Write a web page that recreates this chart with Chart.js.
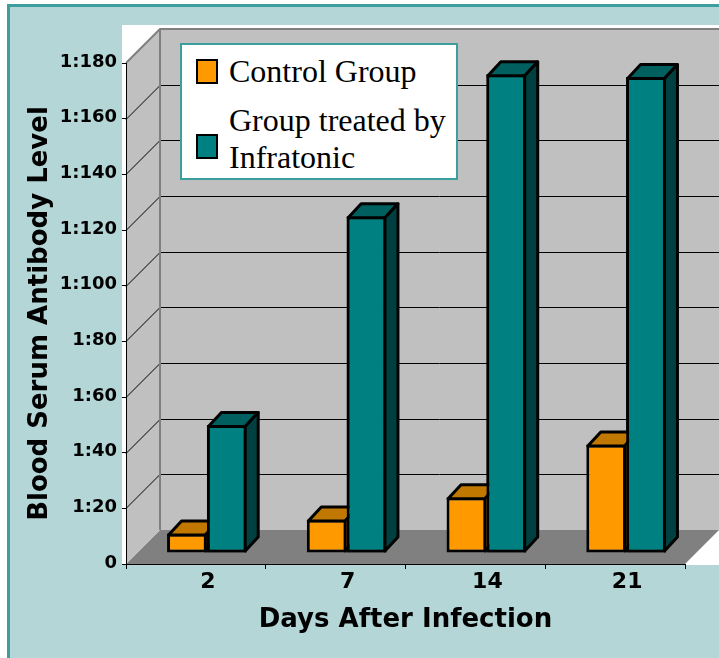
<!DOCTYPE html>
<html>
<head>
<meta charset="utf-8">
<script src="https://cdn.jsdelivr.net/npm/chart.js@4.4.1/dist/chart.umd.min.js"></script>
<style>
body { margin: 0; background: #fff; }
#frame { position: absolute; left: 7px; top: 4px; width: 712px; height: 654px; box-sizing: border-box;
  background: #b4d6d6; border-left: 3px solid #3d9e9e; border-top: 3px solid #3d9e9e; }
#chart { position: absolute; left: 0; top: 0; }
#legend { position: absolute; left: 180px; top: 43px; width: 278px; height: 137px; box-sizing: border-box;
  background: #fff; border: 2px solid #3d9e9e; padding: 8px 0 0 14px;
  font-family: "Liberation Serif", "Times New Roman", serif; font-size: 32px; line-height: 37px; color: #000; }
.item { display: flex; align-items: center; margin-bottom: 12px; }
.swatch { width: 22px; height: 25px; box-sizing: border-box; border: 2px solid #000; margin-right: 11px; flex: none; }
.item:nth-child(2) .swatch { margin-top: 14px; }
</style>
</head>
<body>
<div id="frame"></div>
<canvas id="chart" width="719" height="658"></canvas>
<div id="legend"></div>
<script>
const days = ['2', '7', '14', '21']
const controlGroup = [7, 12, 20, 39]
const treatedGroup = [46, 121, 172, 171]
const yTickLabels = ['0', '1:20', '1:40', '1:60', '1:80', '1:100', '1:120', '1:140', '1:160', '1:180']

// 3d look: depth of the box and how far the bars sit behind the front plane
const depth = 34
const barShift = 11
const barDx = 13
const barDy = 14
const bw = 3

function poly(ctx, pts) {
    ctx.beginPath()
    pts.forEach((p, i) => i ? ctx.lineTo(p[0], p[1]) : ctx.moveTo(p[0], p[1]))
    ctx.closePath()
}

const box3d = {
    id: 'box3d',
    beforeDraw(chart) {
        const { ctx, chartArea: a } = chart
        const y = chart.scales.y
        ctx.save()
        ctx.fillStyle = '#fff'
        ctx.fillRect(a.left - 4, a.top - depth - 4, chart.width - a.left + 4, a.bottom - a.top + depth + 5)

        ctx.fillStyle = '#808080'
        poly(ctx, [[a.left, a.bottom], [a.right, a.bottom], [a.right + depth, a.bottom - depth], [a.left + depth, a.bottom - depth]])
        ctx.fill()

        ctx.fillStyle = '#c0c0c0'
        poly(ctx, [[a.left, a.top], [a.left + depth, a.top - depth], [a.left + depth, a.bottom - depth], [a.left, a.bottom]])
        ctx.fill()
        ctx.fillRect(a.left + depth, a.top - depth, a.right - a.left, a.bottom - a.top)

        ctx.strokeStyle = '#000'
        ctx.lineWidth = 1
        y.ticks.forEach(t => {
            if (t.value == y.min || t.value == y.max) return
            const py = Math.round(y.getPixelForValue(t.value)) + 0.5
            ctx.beginPath()
            ctx.moveTo(a.left, py)
            ctx.lineTo(a.left + depth, py - depth)
            ctx.lineTo(a.right + depth, py - depth)
            ctx.stroke()
        })

        ctx.strokeStyle = '#808080'
        ctx.lineWidth = 2
        ctx.beginPath()
        ctx.moveTo(a.left, a.top)
        ctx.lineTo(a.left + depth, a.top - depth)
        ctx.lineTo(a.right + depth, a.top - depth)
        ctx.moveTo(a.left + depth, a.top - depth)
        ctx.lineTo(a.left + depth, a.bottom - depth)
        ctx.stroke()
        ctx.restore()
    },
    beforeDatasetsDraw(chart) {
        chart.ctx.save()
        chart.ctx.translate(barShift, -barShift)
    },
    afterDatasetsDraw(chart) {
        const ctx = chart.ctx
        chart.data.datasets.forEach((ds, i) => {
            chart.getDatasetMeta(i).data.forEach(bar => {
                // later datasets go in front of the earlier ones' top and side faces
                if (i > 0) bar.draw(ctx)
                const { x, y, base, width } = bar.getProps(['x', 'y', 'base', 'width'], true)
                const h = bw / 2
                const L = x - width / 2 + h, R = x + width / 2 - h, T = y + h, B = base - h
                ctx.lineWidth = bw
                ctx.lineJoin = 'round'
                ctx.strokeStyle = '#000'
                ctx.fillStyle = ds.topColor
                poly(ctx, [[L, T], [L + barDx, T - barDy], [R + barDx, T - barDy], [R, T]])
                ctx.fill()
                ctx.stroke()
                ctx.fillStyle = ds.sideColor
                poly(ctx, [[R, T], [R + barDx, T - barDy], [R + barDx, B - barDy], [R, B]])
                ctx.fill()
                ctx.stroke()
            })
        })
        ctx.restore()
    }
}

const boldFont = size => ({ family: 'DejaVu Sans', weight: 'bold', size: size })

const chart = new Chart(document.getElementById('chart'), {
    type: 'bar',
    data: {
        labels: days,
        datasets: [{
            label: 'Control Group',
            data: controlGroup,
            backgroundColor: '#ff9900',
            topColor: '#c07800',
            sideColor: '#a06000',
            borderColor: '#000',
            borderWidth: bw,
            borderSkipped: 'right',
            clip: false
        }, {
            label: 'Group treated by Infratonic',
            data: treatedGroup,
            backgroundColor: '#008080',
            topColor: '#006060',
            sideColor: '#004040',
            borderColor: '#000',
            borderWidth: bw,
            borderSkipped: false,
            clip: false
        }]
    },
    options: {
        responsive: false,
        animation: false,
        devicePixelRatio: 1,
        categoryPercentage: 0.57,
        barPercentage: 1,
        layout: { padding: { top: 63, right: 34, left: 0, bottom: 0 } },
        plugins: { legend: { display: false }, tooltip: { enabled: false } },
        scales: {
            x: {
                grid: { drawOnChartArea: false, color: '#000', tickLength: 5 },
                border: { color: '#000', width: 1 },
                ticks: { color: '#000', font: boldFont(22), labelOffset: 12, padding: 0, maxRotation: 0 },
                title: { display: true, text: 'Days After Infection', color: '#000', font: boldFont(26), padding: { top: 0, bottom: 22 } },
                afterFit: s => { s.height = 94 }
            },
            y: {
                min: 0,
                max: 180,
                grid: { drawOnChartArea: false, color: '#000', tickLength: 4 },
                border: { color: '#000', width: 1 },
                ticks: { stepSize: 20, color: '#000', font: boldFont(18), padding: 5, labelOffset: -1, callback: (v, i) => yTickLabels[i] },
                title: { display: true, text: 'Blood Serum Antibody Level', color: '#000', font: boldFont(26), padding: { top: 25, bottom: 0 } },
                afterFit: s => { s.width = 126 }
            }
        }
    },
    plugins: [box3d]
})

// html legend built from the datasets
const legendElm = document.getElementById('legend')
chart.data.datasets.forEach(ds => {
    const item = document.createElement('div')
    item.className = 'item'
    const sw = document.createElement('span')
    sw.className = 'swatch'
    sw.style.background = ds.backgroundColor
    const txt = document.createElement('span')
    txt.innerText = ds.label
    item.appendChild(sw)
    item.appendChild(txt)
    legendElm.appendChild(item)
})
</script>
</body>
</html>
